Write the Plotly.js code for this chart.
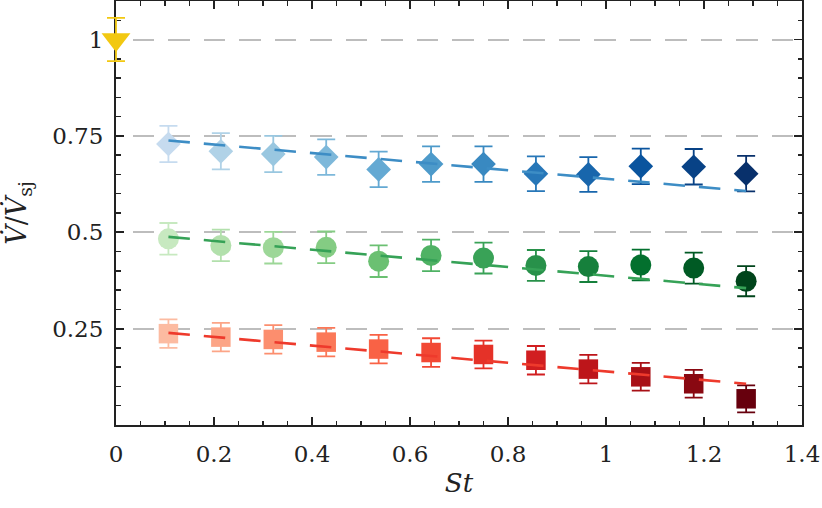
<!DOCTYPE html>
<html>
<head>
<meta charset="utf-8">
<script src="https://cdn.plot.ly/plotly-3.0.1.min.js"></script>
<style>
  html, body { margin: 0; padding: 0; background: #fff; }
  #chart { width: 822px; height: 508px; }
  /* shift the dash phase of the grid so it matches the reference */
  .ygrid { stroke-dashoffset: 18.7px; }
</style>
</head>
<body>
<div id="chart"></div>
<script>
// Strouhal numbers of the forced cases
const stX = [0.107, 0.214, 0.321, 0.429, 0.536, 0.643, 0.750, 0.857, 0.964, 1.071, 1.179, 1.286];

// reference (steady jet) point
const refSt = [0];
const refV = [1];
const refErr = [0.056];

// diamond series
const blueV = [0.729, 0.710, 0.703, 0.695, 0.663, 0.677, 0.677, 0.652, 0.650, 0.671, 0.670, 0.652];
const blueErr = [0.047, 0.047, 0.047, 0.046, 0.046, 0.046, 0.046, 0.045, 0.045, 0.046, 0.046, 0.046];
// circle series
const greenV = [0.483, 0.466, 0.460, 0.461, 0.425, 0.440, 0.433, 0.414, 0.411, 0.415, 0.407, 0.373];
const greenErr = [0.041, 0.041, 0.041, 0.041, 0.041, 0.041, 0.040, 0.040, 0.040, 0.040, 0.040, 0.039];
// square series
const redV = [0.237, 0.228, 0.222, 0.215, 0.197, 0.188, 0.183, 0.168, 0.145, 0.125, 0.107, 0.068];
const redErr = [0.037, 0.037, 0.037, 0.037, 0.037, 0.037, 0.036, 0.037, 0.037, 0.036, 0.036, 0.035];

// linear fits (end points)
const fitSt = [0.107, 1.286];
const blueFit = [0.738, 0.607];
const greenFit = [0.488, 0.355];
const redFit = [0.239, 0.107];

// per-point colours (light -> dark)
const blueCols = ['#c6dbef', '#b0d2e7', '#99c7e0', '#7db8da', '#64a9d3', '#4d9aca',
                  '#3989c1', '#2777b8', '#1866ac', '#0a549e', '#084286', '#08306b'];
const greenCols = ['#c7e9c0', '#b2e0ac', '#9dd798', '#84cc83', '#6bc072', '#4fb264',
                   '#39a257', '#28914a', '#16803c', '#03702e', '#005a24', '#00441b'];
const redCols = ['#fcbba1', '#fca587', '#fc8e6e', '#fb7858', '#f96245', '#f24834',
                 '#e53228', '#d11e20', '#bd151a', '#a81016', '#890811', '#67000d'];

const serif = 'DejaVu Serif';
const axisCol = '#222222';

function pointTraces(ys, errs, cols, symbol, size) {
    return stX.map((x, i) => ({
        x: [x], y: [ys[i]],
        type: 'scatter', mode: 'markers',
        marker: { symbol: symbol, size: size, color: cols[i], line: { width: 0 } },
        error_y: { type: 'data', array: [errs[i]], visible: true, color: cols[i], thickness: 1.8, width: 9 },
        showlegend: false, hoverinfo: 'x+y'
    }));
}

function fitTrace(ys, color) {
    return {
        x: fitSt, y: ys, type: 'scatter', mode: 'lines',
        line: { color: color, width: 2.6, dash: '21.5px,14px' },
        showlegend: false, hoverinfo: 'skip'
    };
}

const traces = [
    ...pointTraces(blueV, blueErr, blueCols, 'diamond', 19),
    ...pointTraces(greenV, greenErr, greenCols, 'circle', 21),
    ...pointTraces(redV, redErr, redCols, 'square', 19.5),
    fitTrace(blueFit, '#3d8dc5'),
    fitTrace(greenFit, '#36a257'),
    fitTrace(redFit, '#ee3a2c'),
    {
        x: refSt, y: refV, type: 'scatter', mode: 'markers', cliponaxis: false,
        marker: { symbol: 'triangle-down', size: 25, color: '#f2c811', line: { width: 0 } },
        error_y: { type: 'data', array: refErr, visible: true, color: '#f2c811', thickness: 1.8, width: 9 },
        showlegend: false
    }
];

const layout = {
    width: 822, height: 508,
    margin: { l: 116, r: 20, t: 1, b: 83 },
    paper_bgcolor: '#ffffff', plot_bgcolor: '#ffffff',
    font: { family: serif, color: axisCol, size: 23 },
    showlegend: false,
    xaxis: {
        range: [0, 1.4], tick0: 0, dtick: 0.2,
        ticks: 'inside', ticklen: 8, tickwidth: 1.8, tickcolor: axisCol,
        minor: { dtick: 0.05, tick0: 0, ticks: 'inside', ticklen: 4.5, tickwidth: 1.5, tickcolor: axisCol, showgrid: false },
        showline: true, linewidth: 2, linecolor: axisCol, mirror: 'ticks',
        showgrid: false, zeroline: false, layer: 'below traces',
        tickfont: { family: serif, size: 23, color: axisCol },
        ticklabelstandoff: 7,
        title: { text: '<i>St</i>', font: { family: serif, size: 26, color: axisCol }, standoff: 8 }
    },
    yaxis: {
        range: [0, 1.1],
        tickvals: [0.25, 0.5, 0.75, 1], ticktext: ['0.25', '0.5', '0.75', '1'],
        ticks: 'inside', ticklen: 8, tickwidth: 1.8, tickcolor: axisCol,
        minor: { dtick: 0.05, tick0: 0, ticks: 'inside', ticklen: 4.5, tickwidth: 1.5, tickcolor: axisCol, showgrid: false },
        showline: true, linewidth: 2, linecolor: axisCol, mirror: 'ticks',
        showgrid: true, gridcolor: '#bdbdbd', gridwidth: 2, griddash: '21.5px,14px',
        zeroline: false, layer: 'below traces',
        tickfont: { family: serif, size: 23, color: axisCol },
        ticklabelstandoff: 6,
        title: { text: '<i>V̇</i>/<i>V̇</i><sub>sj</sub>', font: { family: serif, size: 27, color: axisCol }, standoff: 18 }
    }
};

Plotly.newPlot('chart', traces, layout, { staticPlot: true }).then(gd => {
    // let the error bar of the point sitting on the y axis spill over it
    const groups = gd.querySelectorAll('.scatterlayer .trace');
    const last = groups[groups.length - 1];
    [last, ...last.querySelectorAll('*')].forEach(el => el.removeAttribute('clip-path'));
    gd.querySelectorAll('.scatterlayer, .plot').forEach(el => el.removeAttribute('clip-path'));
});
</script>
</body>
</html>
